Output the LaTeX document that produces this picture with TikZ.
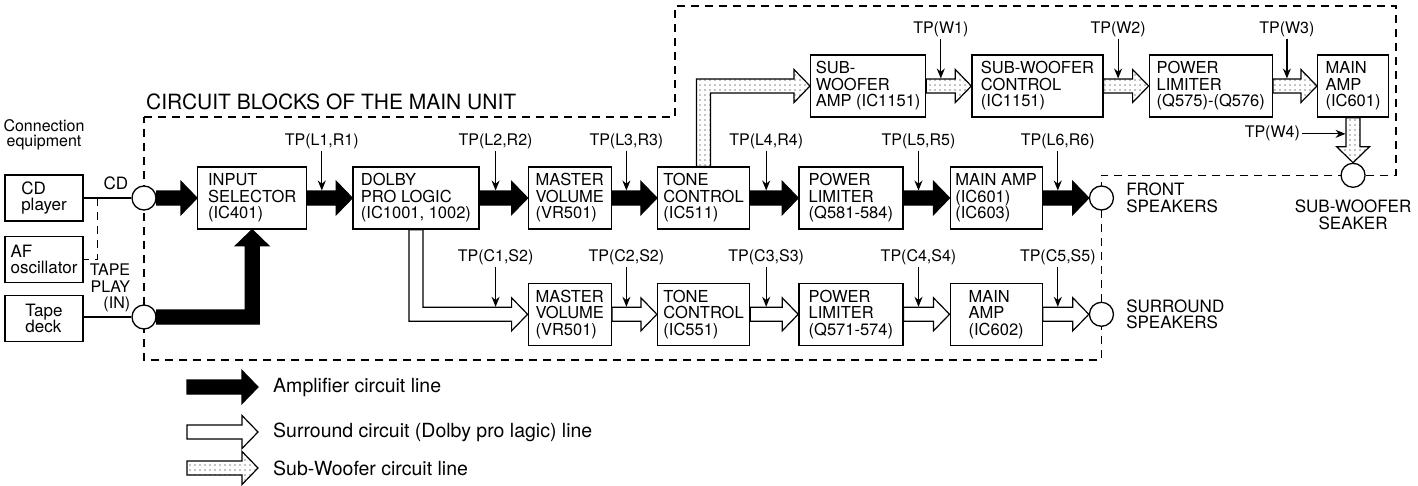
\documentclass[tikz,border=0pt]{standalone}
\usepackage{fontspec}
\setmainfont{TeX Gyre Heros}
\usepackage{tikz}
\usetikzlibrary{arrows.meta, positioning, calc, backgrounds, patterns.meta}

\begin{document}
\begin{tikzpicture}[
    x=1pt, y=-1pt,
    node distance=46pt,
    blockbox/.style={rectangle, draw, line width=1.3pt, minimum height=62pt, inner xsep=5pt, inner ysep=2pt, align=left, font=\fontsize{16.5}{16.5}\selectfont},
    equipbox/.style={rectangle, draw, line width=1.3pt, minimum width=78pt, minimum height=46pt, inner sep=2pt, align=left, font=\fontsize{17}{16.5}\selectfont},
    spk/.style={circle, draw, line width=1.3pt, fill=white, minimum size=24pt, inner sep=0pt},
    tplabel/.style={inner sep=1.5pt, font=\fontsize{16}{16}\selectfont},
    tparrow/.style={-{Stealth[length=10pt, width=8pt]}, line width=1.2pt},
    fatarrow/.style={line width=1.2pt, line join=miter, to path={
        ($(\tikztostart)!7pt!90:(\tikztotarget)$) --
        ($(\tikztotarget)!16pt!(\tikztostart)!7pt!90:(\tikztotarget)$) --
        ($(\tikztotarget)!16pt!(\tikztostart)!16.5pt!90:(\tikztotarget)$) --
        (\tikztotarget) --
        ($(\tikztotarget)!16pt!(\tikztostart)!16.5pt!-90:(\tikztotarget)$) --
        ($(\tikztotarget)!16pt!(\tikztostart)!7pt!-90:(\tikztotarget)$) --
        ($(\tikztostart)!7pt!-90:(\tikztotarget)$) -- cycle}},
    elbow/.style={to path={
        ($(\tikztostart)!7pt!90:(#1)$) --
        ($(#1)!7pt!-90:(\tikztostart) + (#1)!7pt!90:(\tikztotarget) - (#1)$) --
        ($(\tikztotarget)!16pt!(#1)!7pt!90:(\tikztotarget)$) --
        ($(\tikztotarget)!16pt!(#1)!16.5pt!90:(\tikztotarget)$) --
        (\tikztotarget) --
        ($(\tikztotarget)!16pt!(#1)!16.5pt!-90:(\tikztotarget)$) --
        ($(\tikztotarget)!16pt!(#1)!7pt!-90:(\tikztotarget)$) --
        ($(#1)!7pt!90:(\tikztostart) + (#1)!7pt!-90:(\tikztotarget) - (#1)$) --
        ($(\tikztostart)!7pt!-90:(#1)$) -- cycle}},
    ampline/.style={fatarrow, draw=black, fill=black},
    surrline/.style={fatarrow, draw=black, fill=white},
    subline/.style={fatarrow, draw=black, pattern={Dots[distance=5pt, radius=0.6pt]}},
    unitline/.style={dash pattern=on 8pt off 6pt, line width=1.3pt},
    plainline/.style={line width=1.2pt},
    lbl/.style={inner sep=0pt, align=left, font=\fontsize{17}{16.5}\selectfont},
    legendtext/.style={inner sep=0pt, font=\fontsize{19.5}{19.5}\selectfont}
]
\useasboundingbox (0,0) rectangle (1418,485);

% Connection equipment
\node[equipbox] (cdplayer) at (44,198) {CD\\player};
\node[equipbox, below=14pt of cdplayer] (afosc) {AF\\oscillator};
\node[equipbox, below=12pt of afosc] (tapedeck) {Tape\\deck};
\node[lbl, align=center, font=\fontsize{16}{15}\selectfont, above=24pt of cdplayer] (equiptitle) {Connection\\equipment};

% Inputs
\node[spk] (cdin) at (144,198) {};
\node[spk] (tapein) at (144,317) {};
\node[lbl, anchor=south east] (cdlbl) at ($(cdin.west)+(-3,-8)$) {CD};
\node[lbl, align=right, anchor=east, font=\fontsize{16}{16.5}\selectfont] (tapelbl) at ($(tapein.west)+(-1,-29)$) {TAPE\\PLAY\\(IN)};
\draw[plainline] (cdplayer.east) -- (cdin.west);
\draw[plainline] (tapedeck.east |- tapein.west) -- (tapein.west);
\coordinate (cdtap) at ($(cdplayer.east)!0.29!(cdin.west)$);
\draw[unitline] (cdtap) |- (afosc.east);

% Amplifier line
\node[blockbox, minimum width=109pt, anchor=west] (input) at (197,198) {INPUT\\SELECTOR\\(IC401)};
\node[blockbox, minimum width=126pt, right=45pt of input] (dolby) {DOLBY\\PRO LOGIC\\(IC1001, 1002)};
\node[blockbox, minimum width=83pt, right=48pt of dolby] (mv) {MASTER\\VOLUME\\(VR501)};
\node[blockbox, minimum width=92pt, right=45pt of mv] (tone) {TONE\\CONTROL\\(IC511)};
\node[blockbox, minimum width=104pt, right=48pt of tone] (plim) {POWER\\LIMITER\\(Q581-584)};
\node[blockbox, minimum width=92pt, right=46pt of plim] (mamp) {MAIN AMP\\(IC601)\\(IC603)};
\node[spk, right=46pt of mamp] (front) {};
\node[lbl, right=12pt of front] (frontlbl) {FRONT\\SPEAKERS};

% Surround line
\node[blockbox, minimum width=83pt, below=53pt of mv] (smv) {MASTER\\VOLUME\\(VR501)};
\node[blockbox, minimum width=92pt, right=45pt of smv] (stone) {TONE\\CONTROL\\(IC551)};
\node[blockbox, minimum width=104pt, right=48pt of stone] (splim) {POWER\\LIMITER\\(Q571-574)};
\node[blockbox, minimum width=92pt, right=46pt of splim] (samp) {MAIN\\AMP\\(IC602)};
\node[spk, right=46pt of samp] (surr) {};
\node[lbl, right=12pt of surr] (surrlbl) {SURROUND\\SPEAKERS};

% Sub-woofer line
\node[blockbox, minimum width=115pt, anchor=west] (swa) at (810,86) {SUB-\\WOOFER\\AMP (IC1151)};
\node[blockbox, minimum width=131pt, right=45pt of swa] (swc) {SUB-WOOFER\\CONTROL\\(IC1151)};
\node[blockbox, minimum width=123pt, right=45pt of swc] (wlim) {POWER\\LIMITER\\(Q575)-(Q576)};
\node[blockbox, minimum width=71pt, right=44pt of wlim] (wamp) {MAIN\\AMP\\(IC601)};
\node[spk, below=45pt of wamp] (wspk) {};
\node[lbl, align=center, below=12pt of wspk] (wspklbl) {SUB-WOOFER\\SEAKER};

% Main unit outline
\begin{scope}[on background layer]
\draw[unitline] (cdin |- 0,117) -- (675,117) -- (675,6) -- (1396,6) -- (1396,0 |- wspk) -- (front |- wspk) -- (front |- 0,360) -- (cdin |- 0,360) -- cycle;
\end{scope}
\node[anchor=south west, inner sep=0pt, font=\fontsize{21}{21}\selectfont] (unittitle) at ($(cdin |- 0,117)+(2,-7)$) {CIRCUIT BLOCKS OF THE MAIN UNIT};

% Signal arrows
\draw[ampline] (cdin.east) to (input.west);
\coordinate (tapebend) at (tapein.east -| input.south);
\draw[ampline, elbow=tapebend] (tapein.east) to (input.south);
\draw[ampline] (input.east) to (dolby.west);
\draw[ampline] (dolby.east) to (mv.west);
\draw[ampline] (mv.east) to (tone.west);
\draw[ampline] (tone.east) to (plim.west);
\draw[ampline] (plim.east) to (mamp.west);
\draw[ampline] (mamp.east) to (front.west);

\coordinate (dolbybend) at (dolby.south |- smv.west);
\draw[surrline, elbow=dolbybend] (dolby.south) to (smv.west);
\draw[surrline] (smv.east) to (stone.west);
\draw[surrline] (stone.east) to (splim.west);
\draw[surrline] (splim.east) to (samp.west);
\draw[surrline] (samp.east) to (surr.west);

\coordinate (tonebend) at (tone.north |- swa.west);
\draw[subline, elbow=tonebend] (tone.north) to (swa.west);
\draw[subline] (swa.east) to (swc.west);
\draw[subline] (swc.east) to (wlim.west);
\draw[subline] (wlim.east) to (wamp.west);
\draw[subline] (wamp.south) to (wspk.north);

% Test points, amplifier line
\coordinate (tpl1) at ($(input.east)!0.5!(dolby.west)+(-8,-7.5)$);
\node[tplabel, above=40pt of tpl1] (tpl1lbl) {TP(L1,R1)};
\draw[tparrow] (tpl1lbl) -- (tpl1);
\coordinate (tpl2) at ($(dolby.east)!0.5!(mv.west)+(-8,-7.5)$);
\node[tplabel, above=40pt of tpl2] (tpl2lbl) {TP(L2,R2)};
\draw[tparrow] (tpl2lbl) -- (tpl2);
\coordinate (tpl3) at ($(mv.east)!0.5!(tone.west)+(-8,-7.5)$);
\node[tplabel, above=40pt of tpl3] (tpl3lbl) {TP(L3,R3)};
\draw[tparrow] (tpl3lbl) -- (tpl3);
\coordinate (tpl4) at ($(tone.east)!0.5!(plim.west)+(-8,-7.5)$);
\node[tplabel, above=40pt of tpl4] (tpl4lbl) {TP(L4,R4)};
\draw[tparrow] (tpl4lbl) -- (tpl4);
\coordinate (tpl5) at ($(plim.east)!0.5!(mamp.west)+(-8,-7.5)$);
\node[tplabel, above=40pt of tpl5] (tpl5lbl) {TP(L5,R5)};
\draw[tparrow] (tpl5lbl) -- (tpl5);
\coordinate (tpl6) at ($(mamp.east)!0.5!(front.west)+(-8,-7.5)$);
\node[tplabel, above=40pt of tpl6] (tpl6lbl) {TP(L6,R6)};
\draw[tparrow] (tpl6lbl) -- (tpl6);

% Test points, surround line
\coordinate (tpc1) at ($(tpl2 |- smv.west)+(0,-7.5)$);
\node[tplabel, above=40pt of tpc1] (tpc1lbl) {TP(C1,S2)};
\draw[tparrow] (tpc1lbl) -- (tpc1);
\coordinate (tpc2) at ($(smv.east)!0.5!(stone.west)+(-8,-7.5)$);
\node[tplabel, above=40pt of tpc2] (tpc2lbl) {TP(C2,S2)};
\draw[tparrow] (tpc2lbl) -- (tpc2);
\coordinate (tpc3) at ($(stone.east)!0.5!(splim.west)+(-8,-7.5)$);
\node[tplabel, above=40pt of tpc3] (tpc3lbl) {TP(C3,S3)};
\draw[tparrow] (tpc3lbl) -- (tpc3);
\coordinate (tpc4) at ($(splim.east)!0.5!(samp.west)+(-8,-7.5)$);
\node[tplabel, above=40pt of tpc4] (tpc4lbl) {TP(C4,S4)};
\draw[tparrow] (tpc4lbl) -- (tpc4);
\coordinate (tpc5) at ($(samp.east)!0.5!(surr.west)+(-8,-7.5)$);
\node[tplabel, above=40pt of tpc5] (tpc5lbl) {TP(C5,S5)};
\draw[tparrow] (tpc5lbl) -- (tpc5);

% Test points, sub-woofer line
\coordinate (tpw1) at ($(swa.east)!0.5!(swc.west)+(-8,-7.5)$);
\node[tplabel, above=40pt of tpw1] (tpw1lbl) {TP(W1)};
\draw[tparrow] (tpw1lbl) -- (tpw1);
\coordinate (tpw2) at ($(swc.east)!0.5!(wlim.west)+(-8,-7.5)$);
\node[tplabel, above=40pt of tpw2] (tpw2lbl) {TP(W2)};
\draw[tparrow] (tpw2lbl) -- (tpw2);
\coordinate (tpw3) at ($(wlim.east)!0.5!(wamp.west)+(-8,-7.5)$);
\node[tplabel, above=40pt of tpw3] (tpw3lbl) {TP(W3)};
\draw[tparrow] (tpw3lbl) -- (tpw3);
\coordinate (tpw4) at ($(wamp.south)!0.36!(wspk.north)+(-7.5,0)$);
\node[tplabel, left=44pt of tpw4] (tpw4lbl) {TP(W4)};
\draw[tparrow] (tpw4lbl) -- (tpw4);

% Legend
\coordinate (ampkeyA) at (187,387);
\coordinate (ampkeyB) at (258,387);
\draw[ampline] (ampkeyA) to (ampkeyB);
\node[legendtext, right=15pt of ampkeyB] (ampkey) {Amplifier circuit line};
\coordinate (surrkeyA) at (187,432);
\coordinate (surrkeyB) at (258,432);
\draw[surrline] (surrkeyA) to (surrkeyB);
\node[legendtext, right=15pt of surrkeyB] (surrkey) {Surround circuit (Dolby pro lagic) line};
\coordinate (subkeyA) at (187,468);
\coordinate (subkeyB) at (258,468);
\draw[subline] (subkeyA) to (subkeyB);
\node[legendtext, right=15pt of subkeyB] (subkey) {Sub-Woofer circuit line};
\end{tikzpicture}
\end{document}
